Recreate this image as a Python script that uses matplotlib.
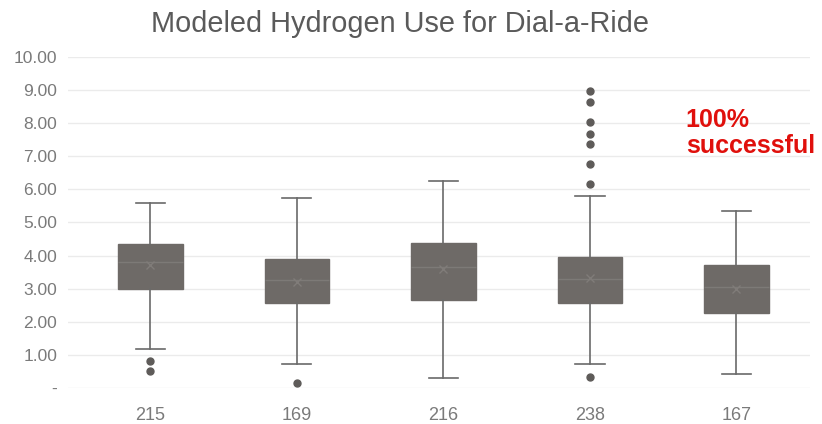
import numpy as np
import matplotlib.pyplot as plt

plt.rcParams['font.family'] = ['Liberation Sans', 'DejaVu Sans']

# Category labels (number of trips modeled)
labels = ["215", "169", "216", "238", "167"]

# Box-plot statistics (kg hydrogen)
whisk_lo = [1.18, 0.73, 0.30, 0.73, 0.42]
q1 = [3.00, 2.58, 2.67, 2.58, 2.27]
median = [3.80, 3.25, 3.65, 3.30, 3.05]
q3 = [4.36, 3.88, 4.39, 3.94, 3.70]
whisk_hi = [5.58, 5.73, 6.24, 5.79, 5.33]
means = [3.72, 3.20, 3.58, 3.32, 2.98]
outliers = [
    [0.82, 0.52],
    [0.15],
    [],
    [8.97, 8.63, 8.03, 7.67, 7.36, 6.76, 6.15, 0.33],
    [],
]

stats = []
for i in range(len(labels)):
    stats.append(dict(whislo=whisk_lo[i], q1=q1[i], med=median[i], q3=q3[i],
                      whishi=whisk_hi[i], mean=means[i], fliers=outliers[i],
                      label=labels[i]))

fig = plt.figure(figsize=(8.22, 4.24), dpi=100)
ax = fig.add_axes([0.083, 0.085, 0.902, 0.781])

box_color = "#6e6a67"
line_color = "#6a6a6a"

ax.bxp(stats, positions=range(len(labels)), widths=0.44, patch_artist=True,
       showmeans=True,
       boxprops=dict(facecolor=box_color, edgecolor=box_color, linewidth=1),
       medianprops=dict(color="#7d7a77", linewidth=1),
       whiskerprops=dict(color=line_color, linewidth=1.2),
       capprops=dict(color=line_color, linewidth=1.2),
       capwidths=0.2,
       meanprops=dict(marker="x", markeredgecolor="#807c79", markersize=6),
       flierprops=dict(marker="o", markerfacecolor="#5e5b59",
                       markeredgecolor="#5e5b59", markersize=5))

ax.set_xlim(-0.56, 4.5)
ax.set_ylim(0, 10)
yt = np.arange(0, 11)
ax.set_yticks(yt)
ax.set_yticklabels(["-"] + [f"{v:.2f}" for v in yt[1:]])
ax.set_xticks(range(len(labels)))
ax.set_xticklabels(labels)
ax.tick_params(axis="both", length=0, labelsize=12.5, colors="#7a7a7a")
ax.tick_params(axis="y", pad=8)
ax.tick_params(axis="x", labelsize=13, pad=13.5)
ax.grid(axis="y", color="#ebebeb", linewidth=1)
ax.set_axisbelow(True)
for s in ax.spines.values():
    s.set_visible(False)

fig.text(0.487, 0.943, "Modeled Hydrogen Use for Dial-a-Ride", ha="center",
         va="center", fontsize=20.8, color="#5a5a5a")
ax.text(0.833, 0.77, "100%\nsuccessful", transform=ax.transAxes, ha="left",
        va="center", fontsize=18, fontweight="bold", color="#e0100c",
        linespacing=1.15)

fig.savefig("out.png", dpi=100)
